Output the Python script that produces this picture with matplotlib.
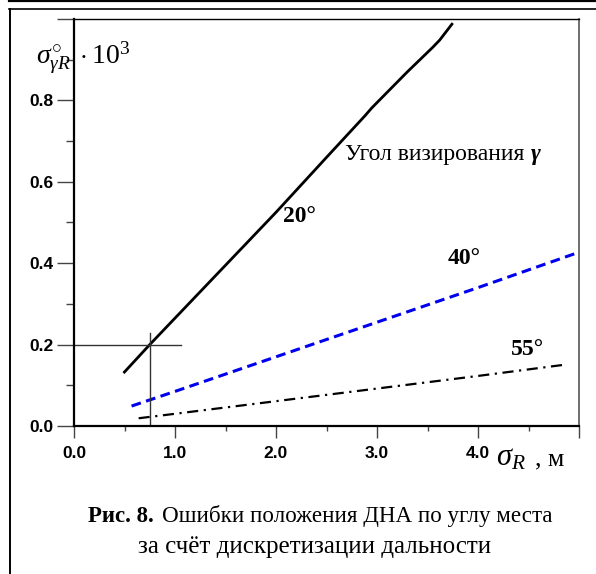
import matplotlib
matplotlib.use("Agg")
import matplotlib.pyplot as plt
from matplotlib.ticker import MultipleLocator
from matplotlib.lines import Line2D

plt.rcParams['mathtext.fontset'] = 'custom'
plt.rcParams['mathtext.rm'] = 'Liberation Serif'
plt.rcParams['mathtext.it'] = 'Liberation Serif:italic'
plt.rcParams['mathtext.bf'] = 'Liberation Serif:bold'

# ---- data ----
x20 = [0.49, 0.75, 1.5, 2.0, 2.5, 2.88, 2.95, 3.3, 3.55, 3.62, 3.75]
y20 = [0.13, 0.20, 0.395, 0.525, 0.66, 0.762, 0.782, 0.87, 0.93, 0.948, 0.99]
x40 = [0.57, 1.0, 2.0, 3.0, 4.0, 5.0]
y40 = [0.049, 0.085, 0.17, 0.255, 0.34, 0.427]
x55 = [0.64, 1.0, 2.0, 3.0, 4.0, 4.84]
y55 = [0.019, 0.030, 0.061, 0.092, 0.123, 0.150]
cross_x = 0.75
cross_y = 0.20
xticks = [0, 1, 2, 3, 4, 5]
xticklabels = ['0.0', '1.0', '2.0', '3.0', '4.0', '']
yticks = [0.0, 0.2, 0.4, 0.6, 0.8, 1.0]
yticklabels = ['0.0', '0.2', '0.4', '0.6', '0.8', '']
curve_labels = ['20°', '40°', '55°']

W, H = 596, 574
fig = plt.figure(figsize=(W / 100, H / 100), dpi=100)

# outer frame lines
fig.add_artist(Line2D([9 / W, 1], [1 - 0.8 / H, 1 - 0.8 / H], color='black', lw=1.6))
fig.add_artist(Line2D([9 / W, 1], [1 - 8.5 / H, 1 - 8.5 / H], color='black', lw=1.2))
fig.add_artist(Line2D([9.5 / W, 9.5 / W], [0, 1 - 8.5 / H], color='black', lw=1.4))

ax = fig.add_axes([74 / W, 1 - 426 / H, (579 - 74) / W, (426 - 19) / H])
ax.set_xlim(0, 5)
ax.set_ylim(0, 1.0)

ax.plot(x20, y20, color='black', lw=2.0, solid_capstyle='butt')
ax.plot(x40, y40, color='#0000ee', lw=2.2, ls=(0, (3.2, 1.8)))
ax.plot(x55, y55, color='black', lw=1.6, ls=(0, (5, 2.5, 1, 2.5)))

ax.plot([0, 1.06], [cross_y, cross_y], color='#333333', lw=1.0)
ax.plot([cross_x, cross_x], [0, 0.228], color='#333333', lw=1.0)

ax.set_xticks(xticks)
ax.set_xticklabels(xticklabels)
ax.xaxis.set_minor_locator(MultipleLocator(0.5))
ax.set_yticks(yticks)
ax.set_yticklabels(yticklabels)
ax.yaxis.set_minor_locator(MultipleLocator(0.1))

for lab in ax.get_xticklabels() + ax.get_yticklabels():
    lab.set_fontfamily('Liberation Sans')
    lab.set_fontweight('bold')
    lab.set_fontsize(12.5)

ax.tick_params(axis='x', which='major', direction='out', length=8.5, width=1.0,
               color='#444444', pad=6)
ax.tick_params(axis='x', which='minor', direction='out', length=3.5, width=1.0,
               color='#444444')
ax.tick_params(axis='y', which='major', direction='out', length=12, width=1.0,
               color='#444444', pad=3)
ax.tick_params(axis='y', which='minor', direction='out', length=6, width=1.0,
               color='#444444')

for s in ['left', 'bottom']:
    ax.spines[s].set_linewidth(1.6)
    ax.spines[s].set_color('black')
ax.spines['top'].set_linewidth(1.0)
ax.spines['right'].set_linewidth(1.2)
ax.spines['right'].set_color('#555555')

# annotations
t_ang = ax.text(2.68, 0.653, 'Угол визирования', fontfamily='Liberation Serif', fontsize=17,
                ha='left', va='baseline')
ax.annotate('γ', xy=(1, 0), xycoords=t_ang, xytext=(5, 0), textcoords='offset points',
            fontfamily='Liberation Serif', fontsize=17, fontweight='bold',
            fontstyle='italic', ha='left', va='bottom')
ax.text(2.07, 0.515, curve_labels[0], fontfamily='Liberation Serif', fontsize=17,
        fontweight='bold', ha='left', va='center')
ax.text(3.70, 0.412, curve_labels[1], fontfamily='Liberation Serif', fontsize=17,
        fontweight='bold', ha='left', va='center')
ax.text(4.33, 0.188, curve_labels[2], fontfamily='Liberation Serif', fontsize=17,
        fontweight='bold', ha='left', va='center')

# axis labels
fig.text(36 / W, 1 - 63 / H, r'$\sigma^{\circ}_{\gamma R}\;\cdot 10^3$', fontsize=20,
         ha='left', va='baseline')
fig.text(496 / W, 1 - 465 / H, r'$\sigma_R$', fontsize=22,
         ha='left', va='baseline')
fig.text(535 / W, 1 - 465 / H, ', м', fontsize=18.5, fontfamily='Liberation Serif',
         ha='left', va='baseline')

# caption
t_b = fig.text(88 / W, 1 - 522 / H, 'Рис. 8.', fontsize=16.5, fontweight='bold',
               fontfamily='Liberation Serif', ha='left', va='baseline')
fig.text(553 / W, 1 - 522 / H, 'Ошибки положения ДНА по углу места',
         fontsize=16.6, fontfamily='Liberation Serif', ha='right', va='baseline')
fig.text(315 / W, 1 - 553 / H, 'за счёт дискретизации дальности',
         fontsize=18, fontfamily='Liberation Serif', ha='center', va='baseline')

fig.savefig('out.png', dpi=100)
